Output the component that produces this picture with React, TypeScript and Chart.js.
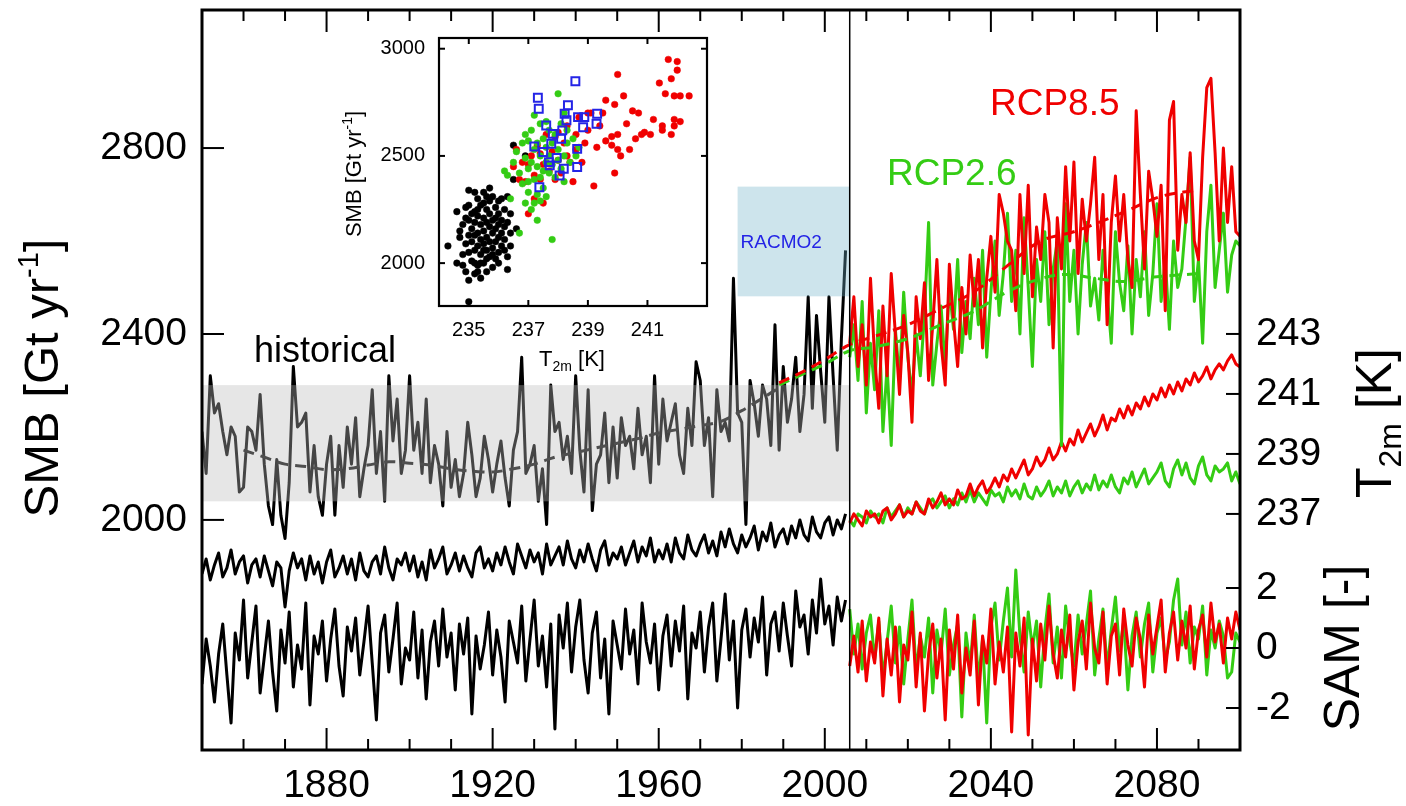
import React, { useEffect, useRef } from "react";
import { Chart, registerables } from "chart.js";

Chart.register(...registerables);

const FONT_FAMILY = '"Liberation Sans", Arial, Helvetica, sans-serif';
const font = (size: number) => `${size}px ${FONT_FAMILY}`;

const RED = "rgb(240,0,0)";
const GREEN = "rgb(52,204,20)";
const BLUE = "rgb(36,36,230)";

// ---------- axes ----------
const X_TICKS = [1850, 1860, 1870, 1880, 1890, 1900, 1910, 1920, 1930, 1940, 1950, 1960, 1970, 1980, 1990, 2000, 2010, 2020, 2030, 2040, 2050, 2060, 2070, 2080, 2090, 2100];
const X_LABELS = [1880, 1920, 1960, 2000, 2040, 2080];
const SMB_TICKS = [2000, 2400, 2800];
const T2M_TICKS = [237, 239, 241, 243];
const SAM_TICKS = [-2, 0, 2];
const X_RANGE = [1850, 2100];
const SMB_RANGE = [1505, 3097];
const T2M_RANGE = [229.13, 253.8];
const SAM_RANGE = [-3.4, 21.27];

const INSET_X_TICKS = [235, 237, 239, 241];
const INSET_Y_TICKS = [2000, 2500, 3000];
const INSET_X_RANGE = [234, 243];
const INSET_Y_RANGE = [1800, 3050];

// ---------- periods / shading ----------
const HIST_FIRST_YEAR = 1850;
const RCP_FIRST_YEAR = 2006;
const SPLIT_YEAR = 2006;
const BAND_YEARS = [1850, 2006];
const BAND_SMB = [2040, 2290];
const RACMO_YEARS = [1979, 2006];
const RACMO_SMB = [2481, 2717];

// ---------- SMB [Gt/yr] ----------
const SMB_HIST = [
  2190, 2100, 2310, 2230, 2250, 2190, 2140, 2200, 2180, 2060,
  2070, 2200, 2190, 2150, 2270, 2120, 2030, 1990, 2130, 2010,
  1960, 2080, 2330, 2200, 2210, 2230, 2060, 2160, 2050, 2010,
  2120, 2180, 2010, 2160, 2070, 2200, 2120, 2220, 2050, 2110,
  2160, 2280, 2100, 2190, 2040, 2310, 2170, 2260, 2100, 2150,
  2310, 2150, 2210, 2100, 2260, 2080, 2160, 2120, 2030, 2190,
  2070, 2130, 2050, 2100, 2210, 2140, 2050, 2090, 2180, 2130,
  2060, 2120, 2170, 2090, 2030, 2150, 2190, 2350, 2100, 2120,
  2160, 2040, 2110, 1990, 2290, 2190, 2210, 2130, 2180, 2100,
  2310, 2150, 2060, 2280, 2020, 2120, 2140, 2230, 2080, 2200,
  2090, 2220, 2160, 2180, 2110, 2240, 2140, 2180, 2080, 2310,
  2120, 2260, 2170, 2210, 2250, 2140, 2100, 2240, 2160, 2340,
  2300, 2160, 2220, 2050, 2280, 2190, 2210, 2170, 2520, 2230,
  2210, 1990, 2300, 2250, 2180, 2290, 2260, 2160, 2420, 2150,
  2330, 2210, 2260, 2350, 2190, 2270, 2480, 2240, 2440, 2320,
  2210, 2480, 2310, 2150, 2390, 2580,
];
const SMB_RCP85 = [
  2380, 2480, 2330, 2420, 2290, 2520, 2350, 2240, 2460, 2310,
  2530, 2400, 2270, 2440, 2360, 2210, 2480, 2390, 2510, 2300,
  2420, 2560, 2380, 2290, 2550, 2430, 2330, 2500, 2400, 2570,
  2460, 2560, 2370, 2520, 2610, 2490, 2700, 2660, 2600, 2580,
  2450, 2700, 2530, 2720, 2480, 2630, 2560, 2700, 2640, 2370,
  2650, 2540, 2760, 2600, 2770, 2530, 2690, 2600, 2680, 2780,
  2560, 2700, 2420, 2640, 2740, 2600, 2700, 2560, 2500, 2880,
  2700, 2540, 2750, 2690, 2610, 2720, 2450, 2860, 2900, 2580,
  2700, 2640, 2790, 2600, 2560, 2780, 2930, 2950, 2790, 2600,
  2800, 2640, 2760, 2620, 2610,
];
const SMB_RCP26 = [
  2350, 2420, 2300, 2470, 2230, 2380, 2280, 2450, 2190, 2330,
  2160, 2410, 2300, 2490, 2350, 2270, 2400, 2310, 2440, 2640,
  2290, 2380, 2460, 2330, 2500, 2410, 2560, 2360, 2470, 2390,
  2520, 2420, 2580, 2350, 2490, 2600, 2440, 2530, 2660, 2470,
  2580, 2400, 2650, 2500, 2330, 2560, 2470, 2620, 2420, 2540,
  2600, 2160, 2680, 2470, 2580, 2400, 2550, 2640, 2460, 2520,
  2430, 2580, 2490, 2380, 2620, 2510, 2450, 2590, 2400, 2560,
  2480, 2620, 2440, 2530, 2680, 2470, 2560, 2410, 2600, 2500,
  2540, 2650, 2780, 2470, 2560, 2380, 2620, 2720, 2500, 2580,
  2660, 2490, 2570, 2600, 2590,
];

// running means (dashed)
const SMOOTH_HIST_YEARS = [1860, 1865, 1870, 1875, 1880, 1885, 1890, 1895, 1900, 1905, 1910, 1915, 1920, 1925, 1930, 1935, 1940, 1945, 1950, 1955, 1960, 1965, 1970, 1975, 1980, 1985, 1990];
const SMOOTH_HIST_SMB = [2150, 2135, 2120, 2115, 2108, 2110, 2118, 2125, 2122, 2118, 2110, 2105, 2103, 2110, 2120, 2135, 2145, 2155, 2165, 2175, 2187, 2195, 2203, 2212, 2235, 2262, 2290];
const SMOOTH_RCP85_YEARS = [1989, 1995, 2000, 2006, 2012, 2020, 2028, 2036, 2044, 2052, 2060, 2066, 2072, 2081, 2090];
const SMOOTH_RCP85_SMB = [2295, 2320, 2345, 2377, 2395, 2420, 2455, 2491, 2547, 2600, 2620, 2640, 2662, 2696, 2710];
const SMOOTH_RCP26_YEARS = [1989, 1995, 2000, 2006, 2012, 2020, 2028, 2036, 2044, 2052, 2058, 2065, 2072, 2080, 2090];
const SMOOTH_RCP26_SMB = [2290, 2315, 2335, 2364, 2372, 2390, 2420, 2449, 2491, 2519, 2528, 2520, 2513, 2523, 2530];

// ---------- T2m [K] ----------
const T2M_HIST = [
  235.0, 235.5, 234.8, 235.3, 235.7, 234.9, 235.2, 235.8, 235.0, 235.4,
  235.6, 234.7, 235.3, 235.5, 234.9, 235.6, 235.1, 234.6, 235.4, 235.2,
  233.9, 235.1, 235.7, 235.2, 235.5, 234.8, 235.6, 235.0, 235.4, 234.7,
  235.4, 235.8, 234.9, 235.2, 235.6, 235.0, 235.5, 234.8, 235.7, 235.1,
  234.9, 235.4, 235.6, 235.0, 235.9, 235.2, 234.8, 235.5, 235.3, 235.7,
  235.1, 235.6, 234.9, 235.4, 234.8, 235.8, 235.2, 235.5, 235.9, 235.0,
  235.3, 235.7, 235.1, 235.6, 235.2, 234.9, 235.7, 235.9, 235.2, 235.5,
  235.1, 235.7, 235.3, 235.9, 235.4, 235.0, 236.0, 235.6, 235.2, 235.8,
  235.4, 235.7, 235.0, 236.0, 235.3, 235.6, 235.9, 235.3, 236.1, 235.5,
  235.2, 235.8, 235.4, 236.0, 235.5, 235.1, 235.8, 236.1, 235.3, 235.7,
  235.5, 235.9, 235.3, 235.7, 236.1, 235.4, 235.9, 235.6, 236.2, 235.4,
  235.8, 235.5, 236.0, 235.4, 236.2, 235.7, 235.5, 236.3, 235.8, 235.6,
  236.0, 236.3, 235.7, 236.1, 235.6, 236.4, 235.9, 236.5, 236.0, 235.7,
  236.3, 235.9, 236.2, 236.6, 235.8, 236.4, 236.1, 236.7, 235.9, 236.3,
  236.5, 236.0, 236.6, 236.2, 236.8, 236.3, 236.1, 236.9, 236.4, 236.2,
  236.7, 236.9, 236.3, 236.8, 236.5, 237.0,
];
const T2M_RCP85 = [
  236.7, 237.0, 236.8, 236.6, 237.1, 236.9, 237.0, 236.7, 237.1, 237.2,
  236.8, 237.0, 237.3, 236.9, 237.1, 237.0, 237.4, 237.1, 237.0, 237.5,
  237.2, 237.4, 237.7, 237.3, 237.5, 237.3, 237.8, 237.5, 237.6, 238.0,
  237.6, 237.9, 238.1, 237.7, 237.9, 238.2, 237.9, 238.3, 238.1, 238.5,
  238.2, 238.5, 238.8, 238.3, 238.5, 238.9, 238.6, 238.8, 239.2, 238.8,
  239.0, 239.4, 239.1, 239.5, 239.3, 239.8, 239.4, 239.7, 240.0, 239.6,
  239.9, 240.3, 239.8, 240.2, 240.1, 240.5, 240.2, 240.6, 240.3, 240.7,
  240.5, 240.9, 240.6, 241.0, 240.8, 241.2, 240.9, 241.3, 241.0, 241.4,
  241.1, 241.5, 241.3, 241.7, 241.4, 241.6, 241.9, 241.5, 241.8, 242.0,
  241.8, 242.1, 242.3, 242.0, 241.9,
];
const T2M_RCP26 = [
  236.8, 236.6, 237.0, 236.9, 236.7, 237.1, 236.9, 237.0, 236.7, 237.2,
  236.9, 237.1, 237.3, 236.9, 237.2, 237.0, 237.4, 237.2, 237.0, 237.4,
  237.5, 237.2, 237.4, 237.6, 237.2, 237.5, 237.3, 237.7, 237.4, 237.8,
  237.4, 237.7, 237.5, 237.3, 237.8, 237.6, 237.7, 237.4, 237.9, 237.6,
  237.8, 237.5, 238.0, 237.6, 237.5, 237.9, 237.6, 237.8, 238.1, 237.6,
  237.9, 237.7, 238.1, 237.6, 237.9, 238.1, 237.7, 238.0, 237.8, 238.3,
  237.8, 238.1, 237.9, 238.3, 237.9, 237.7, 238.2, 238.0, 238.4, 237.9,
  238.2, 238.5, 238.0, 238.2, 238.4, 238.7, 238.1, 237.9, 238.5, 238.8,
  238.3, 238.7, 238.2, 238.0, 238.6, 238.9, 238.3, 238.1, 238.6, 238.4,
  238.5, 238.7, 238.1, 238.4, 238.0,
];

// ---------- SAM index [-] ----------
const SAM_HIST = [
  -1.2, 0.3, -0.6, -1.8, -0.2, 0.8, -0.9, -2.5, 0.5, -0.4,
  1.6, -1.0, 0.2, 1.4, -1.5, -0.3, 0.9, -0.8, -2.1, 0.6,
  -0.5, 1.2, -1.3, 0.1, -0.7, 1.5, -1.9, 0.4, -0.2, 0.9,
  -1.1, 0.3, 1.3, -0.6, -1.6, 0.7, -0.1, 1.0, -0.9, 0.2,
  1.4, -0.5, -2.4, 0.5, 1.1, -0.8, 0.3, 1.5, -1.2, 0.0,
  -0.4, 1.2, -1.0, 0.6, -1.7, 0.2, 0.9, -0.6, 1.3, -0.3,
  0.5, -1.4, 0.8, -0.2, 1.0, -2.2, 0.4, -0.7, 0.1, 1.2,
  -0.9, 0.6, -0.3, -1.8, 0.9, 0.2, -0.5, 1.4, -1.1, 0.3,
  1.6, -0.6, 0.4, -1.3, 0.8, -2.7, 1.1, 0.0, 1.5, -0.8,
  0.7, 1.6, -0.4, -1.5, 0.5, 1.2, -1.0, 0.3, -2.2, 0.9,
  0.1, -0.7, 1.3, -0.2, 0.6, -1.2, 1.5, 0.2, -0.5, 0.8,
  -1.4, 0.4, 1.1, -0.6, 0.9, -0.1, 1.4, -1.7, 0.5, 0.0,
  1.2, -0.8, 0.7, 1.5, -1.1, 0.3, 1.8, -0.4, 0.9, -2.0,
  0.6, 1.3, -0.3, 1.0, 0.2, 1.7, -0.9, 0.8, 1.2, -0.1,
  1.5, 0.4, -0.6, 1.9, 0.7, 1.1, -0.2, 1.6, 0.5, 2.3,
  0.8, 1.4, 0.1, 1.7, 0.9, 1.6,
];
const SAM_RCP85 = [
  -0.6, 0.4, -0.8, 0.9, -1.1, 0.2, -0.5, 1.0, -1.6, 0.3,
  -0.9, 0.7, -1.8, 0.1, -0.4, 1.2, -1.3, 0.5, -2.1, -0.2,
  0.8, -1.0, 0.3, -2.4, 0.6, -0.7, 1.1, -1.5, 0.0, -0.9,
  0.9, -1.9, 0.4, -0.5, 1.3, -1.2, 0.2, -0.8, 0.7, -2.8,
  0.5, -0.6, 1.0, -2.9, 0.3, -1.1, 0.8, -0.4, 1.4, -0.2,
  -1.0, 0.6, -0.3, 1.1, -1.4, 0.2, 0.9, -0.7, 1.5, 0.0,
  -0.5, 1.2, -1.2, 0.4, 0.8, -0.9, 1.3, 0.1, -0.6, 1.0,
  0.3, -1.3, 1.1, -0.2, 0.7, 1.6, -0.8, 0.5, 1.2, -0.4,
  0.9, 0.0, 1.4, -0.7, 0.6, 1.1, -0.3, 1.5, 0.2, 0.8,
  -0.5, 1.0, 0.3, 1.2, 0.6,
];
const SAM_RCP26 = [
  1.3, -0.2, 0.8, -0.7, 0.5, 1.1, -0.4, 0.9, -1.0, 0.2,
  1.4, -0.5, 0.7, -1.2, 0.3, 1.6, -0.8, 0.4, -0.3, 1.0,
  -1.5, 0.6, -0.2, 1.3, -0.9, 0.1, 0.8, -2.3, 0.5, -0.6,
  1.1, -1.1, 0.3, -2.5, 0.7, 1.5, -0.4, 0.9, 2.0, -0.3,
  2.6, 0.4, -0.8, 1.2, 0.0, 0.9, -1.3, 0.6, 1.8, -0.5,
  0.7, -1.0, 1.4, 0.2, -0.6, 1.1, -0.2, 0.8, 1.9, -0.9,
  0.3, 1.3, -0.7, 0.6, 1.7, -0.1, 0.9, -1.4, 0.4, 1.2,
  -0.3, 0.8, 1.5, -0.8, 0.5, 1.0, -0.4, 0.2, 1.6, 2.3,
  0.1, 1.2, -0.5, 0.7, 0.3, 1.4, -0.9, 0.6, 0.0, 0.9,
  0.4, -1.0, -0.8, 0.5, 0.2,
];

// ---------- inset scatter: [T2m, SMB] ----------
const INSET_HIST: [number, number][] = [
  [234.3, 2080], [234.6, 2240], [234.6, 2000], [234.7, 2150], [234.7, 2120], [234.8, 2180], [234.8, 1990], [234.9, 2090], [234.9, 2210], [234.9, 1960],
  [235.0, 2340], [235.0, 2270], [235.0, 2130], [235.0, 2050], [235.0, 1920], [235.0, 1820], [235.1, 2160], [235.1, 2100], [235.1, 2010], [235.2, 2330],
  [235.2, 2240], [235.2, 2190], [235.2, 2060], [235.2, 1950], [235.3, 2300], [235.3, 2140], [235.3, 2080], [235.3, 1990], [235.3, 2220], [235.4, 2180],
  [235.4, 2110], [235.4, 2040], [235.4, 1930], [235.4, 2270], [235.5, 2210], [235.5, 2150], [235.5, 2090], [235.5, 2000], [235.5, 2330], [235.6, 2250],
  [235.6, 2190], [235.6, 2120], [235.6, 2060], [235.6, 1960], [235.7, 2290], [235.7, 2170], [235.7, 2100], [235.7, 2030], [235.7, 2230], [235.8, 2200],
  [235.8, 2140], [235.8, 2070], [235.8, 1980], [235.8, 2310], [235.9, 2260], [235.9, 2160], [235.9, 2100], [235.9, 2020], [236.0, 2230], [236.0, 2180],
  [236.0, 2120], [236.0, 2050], [236.0, 2290], [236.1, 2200], [236.1, 2140], [236.1, 2080], [236.1, 2300], [236.2, 2250], [236.2, 2170], [236.2, 2110],
  [236.3, 2190], [236.3, 2310], [236.3, 2030], [236.3, 1970], [236.4, 2140], [236.4, 2230], [236.5, 2550], [236.5, 2390], [236.6, 2160], [236.9, 2500],
  [235.5, 2060], [235.2, 2000], [235.6, 2020], [235.0, 2200], [235.4, 2000], [235.8, 2040], [234.9, 2260], [235.3, 1960], [235.1, 2230], [235.7, 2350],
  [236.2, 2060], [235.9, 2210], [235.3, 2250], [235.5, 2280], [236.0, 2000], [234.8, 2040], [236.4, 2080], [235.6, 2310], [235.2, 2130],
];
const INSET_RCP26: [number, number][] = [
  [236.2, 2430], [236.3, 2410], [236.4, 2300], [236.5, 2470], [236.6, 2520], [236.7, 2420], [236.7, 2140], [236.8, 2370], [236.8, 2560], [236.9, 2490],
  [236.9, 2280], [237.0, 2440], [237.0, 2330], [237.0, 2570], [237.1, 2620], [237.1, 2470], [237.1, 2250], [237.2, 2390], [237.2, 2530], [237.2, 2690],
  [237.3, 2320], [237.3, 2450], [237.3, 2200], [237.3, 2560], [237.4, 2400], [237.4, 2500], [237.4, 2650], [237.5, 2430], [237.5, 2350], [237.5, 2580],
  [237.6, 2470], [237.6, 2540], [237.6, 2310], [237.7, 2420], [237.7, 2620], [237.7, 2500], [237.8, 2110], [237.8, 2460], [237.8, 2560], [237.9, 2400],
  [237.9, 2600], [238.0, 2790], [238.0, 2480], [238.0, 2530], [238.1, 2440], [238.1, 2650], [238.2, 2500], [238.2, 2380], [238.3, 2560], [238.3, 2620],
  [238.4, 2470], [238.5, 2580], [238.6, 2500], [238.7, 2540], [237.0, 2380], [237.4, 2290], [236.9, 2600], [237.6, 2660], [238.2, 2700], [237.2, 2280],
];
const INSET_RCP85: [number, number][] = [
  [236.5, 2450], [236.6, 2530], [236.7, 2390], [236.8, 2470], [236.9, 2380], [237.0, 2230], [237.0, 2460], [237.1, 2500], [237.2, 2300], [237.2, 2410],
  [237.3, 2550], [237.4, 2390], [237.5, 2460], [237.5, 2280], [237.6, 2600], [237.7, 2430], [237.8, 2520], [237.9, 2390], [238.0, 2610], [238.0, 2480],
  [238.1, 2420], [238.2, 2560], [238.3, 2640], [238.4, 2470], [238.5, 2380], [238.6, 2600], [238.7, 2680], [238.8, 2470], [238.9, 2560], [239.0, 2620],
  [239.1, 2700], [239.2, 2360], [239.3, 2540], [239.4, 2640], [239.5, 2700], [239.6, 2760], [239.8, 2590], [239.9, 2740], [240.0, 2880], [239.9, 2420],
  [240.0, 2530], [240.0, 2600], [240.1, 2500], [240.2, 2780], [240.3, 2650], [240.4, 2530], [240.5, 2710], [240.6, 2580], [240.7, 2700], [240.8, 2600],
  [240.9, 2610], [241.1, 2600], [241.2, 2670], [241.4, 2840], [241.5, 2640], [241.5, 2620], [241.6, 2790], [241.7, 2950], [241.8, 2860], [241.8, 2600],
  [241.9, 2780], [241.9, 2670], [242.0, 2940], [242.0, 2900], [242.1, 2660], [242.1, 2780], [242.4, 2780], [241.9, 2640], [239.8, 2550], [239.0, 2700],
  [238.6, 2530], [237.9, 2590], [237.4, 2510], [238.3, 2500], [239.6, 2570],
];
const INSET_RACMO: [number, number][] = [
  [237.37, 2354], [237.32, 2771], [237.35, 2720], [237.2, 2544], [237.5, 2518], [237.6, 2642], [237.82, 2603], [237.77, 2557], [237.69, 2471], [237.72, 2456],
  [237.95, 2491], [238.05, 2409], [238.19, 2440], [238.14, 2619], [238.1, 2580], [238.22, 2697], [238.33, 2736], [238.28, 2666], [238.58, 2848], [238.64, 2533],
  [238.64, 2448], [238.67, 2681], [238.88, 2681], [238.84, 2634], [239.29, 2650], [239.31, 2697],
];

// ---------- helpers ----------
const series = (firstYear: number, values: number[]) => values.map((v, i) => ({ x: firstYear + i, y: v }));
const zipXY = (xs: number[], ys: number[]) => xs.map((x, i) => ({ x, y: ys[i] }));
const pairs = (pts: [number, number][]) => pts.map(([x, y]) => ({ x, y }));

type Part = { text: string; size: number; dy: number };
function drawRich(ctx: CanvasRenderingContext2D, parts: Part[], cx: number, cy: number, color: string, rotate: boolean) {
  ctx.save();
  ctx.translate(cx, cy);
  if (rotate) ctx.rotate(-Math.PI / 2);
  ctx.fillStyle = color;
  ctx.textBaseline = "alphabetic";
  ctx.textAlign = "left";
  let total = 0;
  parts.forEach((p) => {
    ctx.font = font(p.size);
    total += ctx.measureText(p.text).width;
  });
  let x = -total / 2;
  parts.forEach((p) => {
    ctx.font = font(p.size);
    ctx.fillText(p.text, x, p.dy);
    x += ctx.measureText(p.text).width;
  });
  ctx.restore();
}
function seg(ctx: CanvasRenderingContext2D, x0: number, y0: number, x1: number, y1: number) {
  ctx.beginPath();
  ctx.moveTo(x0, y0);
  ctx.lineTo(x1, y1);
  ctx.stroke();
}
const noPad = (s: any) => {
  s.paddingTop = 0;
  s.paddingBottom = 0;
  s.paddingLeft = 0;
  s.paddingRight = 0;
};

const lineDs = (data: any[], color: string, yAxisID: string, dashed = false) => ({
  data,
  yAxisID,
  borderColor: color,
  backgroundColor: color,
  borderWidth: 3,
  borderDash: dashed ? [11, 7] : [],
  pointRadius: 0,
  fill: false,
  tension: dashed ? 0.35 : 0,
  borderJoinStyle: "round" as const,
  borderCapStyle: "butt" as const,
});

const mainPlugin = {
  id: "mainOverlay",
  afterDatasetsDraw(chart: any) {
    const { ctx, scales } = chart;
    const sx = scales.x;
    const sy = scales.y;
    ctx.save();
    const bx0 = sx.getPixelForValue(BAND_YEARS[0]);
    const bx1 = sx.getPixelForValue(BAND_YEARS[1]);
    const by0 = sy.getPixelForValue(BAND_SMB[1]);
    const by1 = sy.getPixelForValue(BAND_SMB[0]);
    ctx.fillStyle = "rgba(186,186,186,0.37)";
    ctx.fillRect(bx0, by0, bx1 - bx0, by1 - by0);
    const rx0 = sx.getPixelForValue(RACMO_YEARS[0]);
    const rx1 = sx.getPixelForValue(RACMO_YEARS[1]);
    const ry0 = sy.getPixelForValue(RACMO_SMB[1]);
    const ry1 = sy.getPixelForValue(RACMO_SMB[0]);
    ctx.fillStyle = "rgba(112,178,200,0.35)";
    ctx.fillRect(rx0, ry0, rx1 - rx0, ry1 - ry0);
    ctx.fillStyle = BLUE;
    ctx.font = font(19);
    ctx.textAlign = "left";
    ctx.textBaseline = "alphabetic";
    ctx.fillText("RACMO2", rx0 + 3, (ry0 + ry1) / 2 + 7);
    ctx.restore();
  },
  afterDraw(chart: any) {
    const { ctx, chartArea: a, scales } = chart;
    const sx = scales.x;
    const sy = scales.y;
    const sT = scales.yT;
    const sS = scales.yS;
    ctx.save();
    ctx.strokeStyle = "#000";
    const xs = sx.getPixelForValue(SPLIT_YEAR);
    ctx.lineWidth = 1.5;
    seg(ctx, xs, a.top, xs, a.bottom);
    ctx.lineWidth = 2;
    X_TICKS.forEach((v) => {
      const px = sx.getPixelForValue(v);
      const len = X_LABELS.includes(v) ? 22 : 11;
      seg(ctx, px, a.bottom, px, a.bottom - len);
      seg(ctx, px, a.top, px, a.top + len);
    });
    SMB_TICKS.forEach((v) => {
      const py = sy.getPixelForValue(v);
      seg(ctx, a.left, py, a.left + 22, py);
    });
    T2M_TICKS.forEach((v) => {
      const py = sT.getPixelForValue(v);
      seg(ctx, a.right, py, a.right - 14, py);
    });
    SAM_TICKS.forEach((v) => {
      const py = sS.getPixelForValue(v);
      seg(ctx, a.right, py, a.right - 14, py);
    });
    ctx.lineWidth = 3;
    ctx.strokeRect(a.left, a.top, a.right - a.left, a.bottom - a.top);
    ctx.fillStyle = "#000";
    ctx.font = font(39);
    ctx.textAlign = "left";
    ctx.textBaseline = "middle";
    T2M_TICKS.forEach((v) => ctx.fillText(String(v), a.right + 16, sT.getPixelForValue(v)));
    SAM_TICKS.forEach((v) => ctx.fillText(String(v), a.right + 16, sS.getPixelForValue(v)));
    drawRich(ctx, [{ text: "SMB [Gt yr", size: 49, dy: 0 }, { text: "-1", size: 29, dy: -20 }, { text: "]", size: 49, dy: 0 }], 58, 378, "#000", true);
    drawRich(ctx, [{ text: "T", size: 50, dy: 0 }, { text: "2m", size: 32, dy: 10 }, { text: " [K]", size: 50, dy: 0 }], 1391, 423, "#000", true);
    drawRich(ctx, [{ text: "SAM [-]", size: 50, dy: 0 }], 1359, 648, "#000", true);
    ctx.textBaseline = "alphabetic";
    ctx.textAlign = "left";
    ctx.font = font(36);
    ctx.fillStyle = "#000";
    ctx.fillText("historical", 254, 362);
    ctx.font = font(37);
    ctx.fillStyle = RED;
    ctx.fillText("RCP8.5", 990, 115);
    ctx.fillStyle = GREEN;
    ctx.fillText("RCP2.6", 887, 185);
    ctx.restore();
  },
};

const insetPlugin = {
  id: "insetOverlay",
  beforeDatasetsDraw(chart: any) {
    const { ctx, chartArea: a } = chart;
    ctx.save();
    ctx.fillStyle = "#fff";
    ctx.fillRect(a.left, a.top, a.right - a.left, a.bottom - a.top);
    ctx.restore();
  },
  afterDraw(chart: any) {
    const { ctx, chartArea: a, scales } = chart;
    const sx = scales.x;
    const sy = scales.y;
    ctx.save();
    ctx.strokeStyle = "#000";
    ctx.lineWidth = 2;
    INSET_X_TICKS.forEach((v) => {
      const px = sx.getPixelForValue(v);
      seg(ctx, px, a.bottom, px, a.bottom - 6);
      seg(ctx, px, a.top, px, a.top + 6);
    });
    INSET_Y_TICKS.forEach((v) => {
      const py = sy.getPixelForValue(v);
      seg(ctx, a.left, py, a.left + 6, py);
      seg(ctx, a.right, py, a.right - 6, py);
    });
    ctx.lineWidth = 2.2;
    ctx.strokeRect(a.left, a.top, a.right - a.left, a.bottom - a.top);
    drawRich(ctx, [{ text: "SMB [Gt yr", size: 22, dy: 0 }, { text: "-1", size: 14, dy: -9 }, { text: "]", size: 22, dy: 0 }], 31, 149, "#000", true);
    drawRich(ctx, [{ text: "T", size: 22, dy: 0 }, { text: "2m", size: 14, dy: 5 }, { text: " [K]", size: 22, dy: 0 }], 242, 341, "#000", false);
    ctx.restore();
  },
};

export default function App() {
  const mainRef = useRef<HTMLCanvasElement>(null);
  const insetRef = useRef<HTMLCanvasElement>(null);

  useEffect(() => {
    const tickFont = { family: FONT_FAMILY, size: 39 };
    const main = new Chart(mainRef.current as HTMLCanvasElement, {
      type: "line",
      data: {
        datasets: [
          lineDs(zipXY(SMOOTH_RCP85_YEARS, SMOOTH_RCP85_SMB), RED, "y", true),
          lineDs(zipXY(SMOOTH_RCP26_YEARS, SMOOTH_RCP26_SMB), GREEN, "y", true),
          lineDs(zipXY(SMOOTH_HIST_YEARS, SMOOTH_HIST_SMB), "#111", "y", true),
          lineDs(series(RCP_FIRST_YEAR, SMB_RCP85), RED, "y"),
          lineDs(series(RCP_FIRST_YEAR, SMB_RCP26), GREEN, "y"),
          lineDs(series(HIST_FIRST_YEAR, SMB_HIST), "#000", "y"),
          lineDs(series(RCP_FIRST_YEAR, T2M_RCP85), RED, "yT"),
          lineDs(series(RCP_FIRST_YEAR, T2M_RCP26), GREEN, "yT"),
          lineDs(series(HIST_FIRST_YEAR, T2M_HIST), "#000", "yT"),
          lineDs(series(RCP_FIRST_YEAR, SAM_RCP85), RED, "yS"),
          lineDs(series(RCP_FIRST_YEAR, SAM_RCP26), GREEN, "yS"),
          lineDs(series(HIST_FIRST_YEAR, SAM_HIST), "#000", "yS"),
        ],
      },
      options: {
        animation: false,
        responsive: false,
        devicePixelRatio: 1,
        layout: { padding: { top: 10, right: 166, left: 0, bottom: 0 }, autoPadding: false },
        plugins: { legend: { display: false }, tooltip: { enabled: false } },
        scales: {
          x: {
            type: "linear",
            min: X_RANGE[0],
            max: X_RANGE[1],
            grid: { display: false, drawTicks: false },
            border: { display: false },
            afterBuildTicks: (s: any) => {
              s.ticks = X_TICKS.map((v) => ({ value: v }));
            },
            afterFit: (s: any) => {
              s.height = 56;
              noPad(s);
            },
            ticks: {
              autoSkip: false,
              maxRotation: 0,
              minRotation: 0,
              padding: 13,
              color: "#000",
              font: tickFont,
              callback: (v: any) => (X_LABELS.includes(Number(v)) ? String(v) : ""),
            },
          },
          y: {
            type: "linear",
            position: "left",
            min: SMB_RANGE[0],
            max: SMB_RANGE[1],
            grid: { display: false, drawTicks: false },
            border: { display: false },
            afterBuildTicks: (s: any) => {
              s.ticks = SMB_TICKS.map((v) => ({ value: v }));
            },
            afterFit: (s: any) => {
              s.width = 202;
              noPad(s);
            },
            ticks: { padding: 15, color: "#000", font: tickFont, callback: (v: any) => String(v) },
          },
          yT: { type: "linear", display: false, min: T2M_RANGE[0], max: T2M_RANGE[1] },
          yS: { type: "linear", display: false, min: SAM_RANGE[0], max: SAM_RANGE[1] },
        },
      } as any,
      plugins: [mainPlugin],
    });

    const insetFont = { family: FONT_FAMILY, size: 20 };
    const inset = new Chart(insetRef.current as HTMLCanvasElement, {
      type: "scatter",
      data: {
        datasets: [
          { data: pairs(INSET_RACMO), pointStyle: "rect", pointRadius: 5.6, borderColor: BLUE, backgroundColor: "rgba(255,255,255,0)", borderWidth: 2 },
          { data: pairs(INSET_RCP26), pointRadius: 3.3, borderColor: GREEN, backgroundColor: GREEN, borderWidth: 0.5 },
          { data: pairs(INSET_RCP85), pointRadius: 3.3, borderColor: RED, backgroundColor: RED, borderWidth: 0.5 },
          { data: pairs(INSET_HIST), pointRadius: 3.3, borderColor: "#000", backgroundColor: "#000", borderWidth: 0.5 },
        ],
      },
      options: {
        animation: false,
        responsive: false,
        devicePixelRatio: 1,
        layout: { padding: { top: 13, right: 23, left: 0, bottom: 0 }, autoPadding: false },
        plugins: { legend: { display: false }, tooltip: { enabled: false } },
        scales: {
          x: {
            type: "linear",
            min: INSET_X_RANGE[0],
            max: INSET_X_RANGE[1],
            grid: { display: false, drawTicks: false },
            border: { display: false },
            afterBuildTicks: (s: any) => {
              s.ticks = INSET_X_TICKS.map((v) => ({ value: v }));
            },
            afterFit: (s: any) => {
              s.height = 69;
              noPad(s);
            },
            ticks: { autoSkip: false, maxRotation: 0, padding: 12, color: "#000", font: insetFont, callback: (v: any) => String(v) },
          },
          y: {
            type: "linear",
            min: INSET_Y_RANGE[0],
            max: INSET_Y_RANGE[1],
            grid: { display: false, drawTicks: false },
            border: { display: false },
            afterBuildTicks: (s: any) => {
              s.ticks = INSET_Y_TICKS.map((v) => ({ value: v }));
            },
            afterFit: (s: any) => {
              s.width = 109;
              noPad(s);
            },
            ticks: { padding: 14, color: "#000", font: insetFont, callback: (v: any) => String(v) },
          },
        },
      } as any,
      plugins: [insetPlugin],
    });

    return () => {
      main.destroy();
      inset.destroy();
    };
  }, []);

  return (
    <div style={{ position: "fixed", left: 0, top: 0, width: 1406, height: 806, background: "#fff", overflow: "hidden" }}>
      <canvas ref={mainRef} width={1406} height={806} style={{ position: "absolute", left: 0, top: 0, width: 1406, height: 806 }} />
      <canvas ref={insetRef} width={400} height={350} style={{ position: "absolute", left: 330, top: 25, width: 400, height: 350 }} />
    </div>
  );
}
